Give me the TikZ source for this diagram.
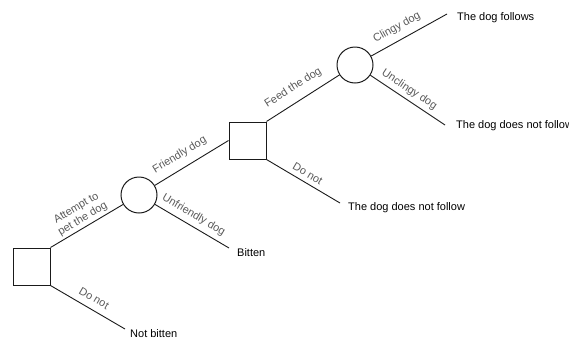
\documentclass[tikz,border=0pt]{standalone}
\usepackage{fontspec}
\setmainfont{Liberation Sans}
\definecolor{lblgray}{HTML}{5A5A5A}
\definecolor{linecol}{HTML}{1A1A1A}
\tikzset{
  decision/.style={draw=linecol, line width=1pt, minimum size=37pt, inner sep=0pt, rectangle},
  chance/.style={draw=linecol, line width=1pt, minimum size=36pt, inner sep=0pt, circle},
  outcome/.style={anchor=west, inner sep=0pt, font=\fontsize{11pt}{13pt}\selectfont, text=black},
  branch/.style={draw=linecol, line width=0.9pt},
  lbl/.style={sloped, anchor=center, inner sep=0pt, font=\fontsize{11pt}{12.5pt}\selectfont, text=lblgray, align=center}
}
\begin{document}
\begin{tikzpicture}[x=1pt, y=-1pt]
\useasboundingbox (0,0) rectangle (569,338);
% decision and chance nodes
\node[decision] (sq1) at (31.5,266.5) {};
\node[chance]   (c1)  at (139,195) {};
\node[decision] (sq2) at (247.5,140.5) {};
\node[chance]   (c2)  at (355,65) {};
% free ends
\coordinate (e1) at (125,329);
\coordinate (e2) at (229,248);
\coordinate (e3) at (340,203);
\coordinate (e4) at (447,14);
\coordinate (e5) at (445,125);
% outcome texts
\node[outcome] (t1) at (130,334) {Not bitten};
\node[outcome] (t2) at (237,253) {Bitten};
\node[outcome] (t3) at (348,207.5) {The dog does not follow};
\node[outcome] (t4) at (457,18) {The dog follows};
\node[outcome] (t5) at (456,126) {The dog does not follow};
% branches
\draw[branch] (sq1.north east) -- node[lbl, pos=0.5, yshift=14pt] {Attempt to\\pet the dog} (c1);
\draw[branch] (sq1.south east) -- node[lbl, pos=0.51, yshift=11pt] {Do not} (e1);
\draw[branch] (c1) -- node[lbl, pos=0.43, yshift=13pt] {Friendly dog} (sq2.west);
\draw[branch] (c1) -- node[lbl, pos=0.45, yshift=10.5pt] {Unfriendly dog} (e2);
\draw[branch] (sq2.north east) -- node[lbl, pos=0.47, yshift=14pt] {Feed the dog} (c2);
\draw[branch] (sq2.south east) -- node[lbl, pos=0.5, yshift=9pt] {Do not} (e3);
\draw[branch] (c2) -- node[lbl, pos=0.42, yshift=12.5pt] {Clingy dog} (e4);
\draw[branch] (c2) -- node[lbl, pos=0.45, yshift=9.5pt] {Unclingy dog} (e5);
\end{tikzpicture}
\end{document}
